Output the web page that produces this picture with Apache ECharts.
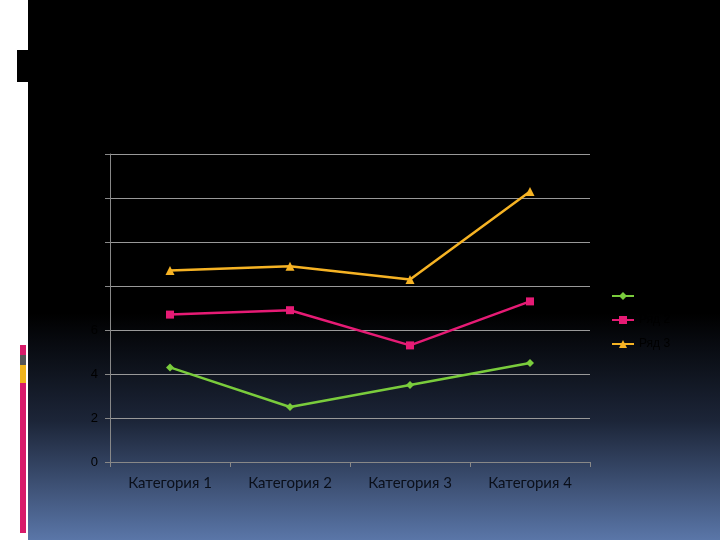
<!DOCTYPE html>
<html><head><meta charset="utf-8">
<script src="https://cdn.jsdelivr.net/npm/echarts@6/dist/echarts.min.js"></script>
<style>html,body{margin:0;padding:0;background:#fff}#c{width:720px;height:540px}</style>
</head><body><div id="c"></div>
<script>
const categories = ['Категория 1','Категория 2','Категория 3','Категория 4'];
const series1 = [4.3, 2.5, 3.5, 4.5];
const series2 = [2.4, 4.4, 1.8, 2.8];
const series3 = [2, 2, 3, 5];
const names = ['Ряд 1','Ряд 2','Ряд 3'];
const chart = echarts.init(document.getElementById('c'));
chart.setOption({
  animation:false,
  graphic:[
    {type:'rect',shape:{x:28,y:0,width:692,height:540},z:-10,style:{fill:new echarts.graphic.LinearGradient(0,0,0,1,[{offset:0,color:'#000'},{offset:0.58,color:'#000'},{offset:0.78,color:'#1c2538'},{offset:1,color:'#5a76a8'}])}},
    {type:'rect',shape:{x:17,y:50,width:11,height:32},style:{fill:'#000'}},
    {type:'rect',shape:{x:20,y:345,width:6,height:10},style:{fill:'#d81b6a'}},
    {type:'rect',shape:{x:20,y:355,width:6,height:10},style:{fill:'#555'}},
    {type:'rect',shape:{x:20,y:365,width:6,height:18},style:{fill:'#f0b41c'}},
    {type:'rect',shape:{x:20,y:383,width:6,height:150},style:{fill:'#d81b6a'}}
  ],
  legend:{orient:'vertical',left:606,top:285,itemGap:12,itemWidth:22,itemHeight:10,
    textStyle:{color:'#000',fontSize:12}},
  grid:{left:110,right:130,top:154,bottom:78},
  xAxis:{type:'category',data:categories,boundaryGap:true,
    axisLine:{lineStyle:{color:'#888'}},axisTick:{show:true,length:5,lineStyle:{color:'#888'}},
    axisLabel:{color:'#0a0f1a',fontSize:15,fontFamily:'Lato',margin:14}},
  yAxis:{type:'value',min:0,max:14,interval:2,
    axisLine:{show:true,lineStyle:{color:'#888'}},axisTick:{show:true,length:5,lineStyle:{color:'#888'}},
    splitLine:{lineStyle:{color:'#999'}},
    axisLabel:{color:'#000',fontSize:13,margin:12}},
  series:[
    {name:names[0],type:'line',stack:'s',data:series1,symbol:'diamond',symbolSize:8,itemStyle:{color:'#7acc3c'},lineStyle:{width:2.5,color:'#7acc3c'}},
    {name:names[1],type:'line',stack:'s',data:series2,symbol:'rect',symbolSize:8,itemStyle:{color:'#e61b75'},lineStyle:{width:2.5,color:'#e61b75'}},
    {name:names[2],type:'line',stack:'s',data:series3,symbol:'triangle',symbolSize:9,itemStyle:{color:'#f6b324'},lineStyle:{width:2.5,color:'#f6b324'}}
  ]
});
</script></body></html>
